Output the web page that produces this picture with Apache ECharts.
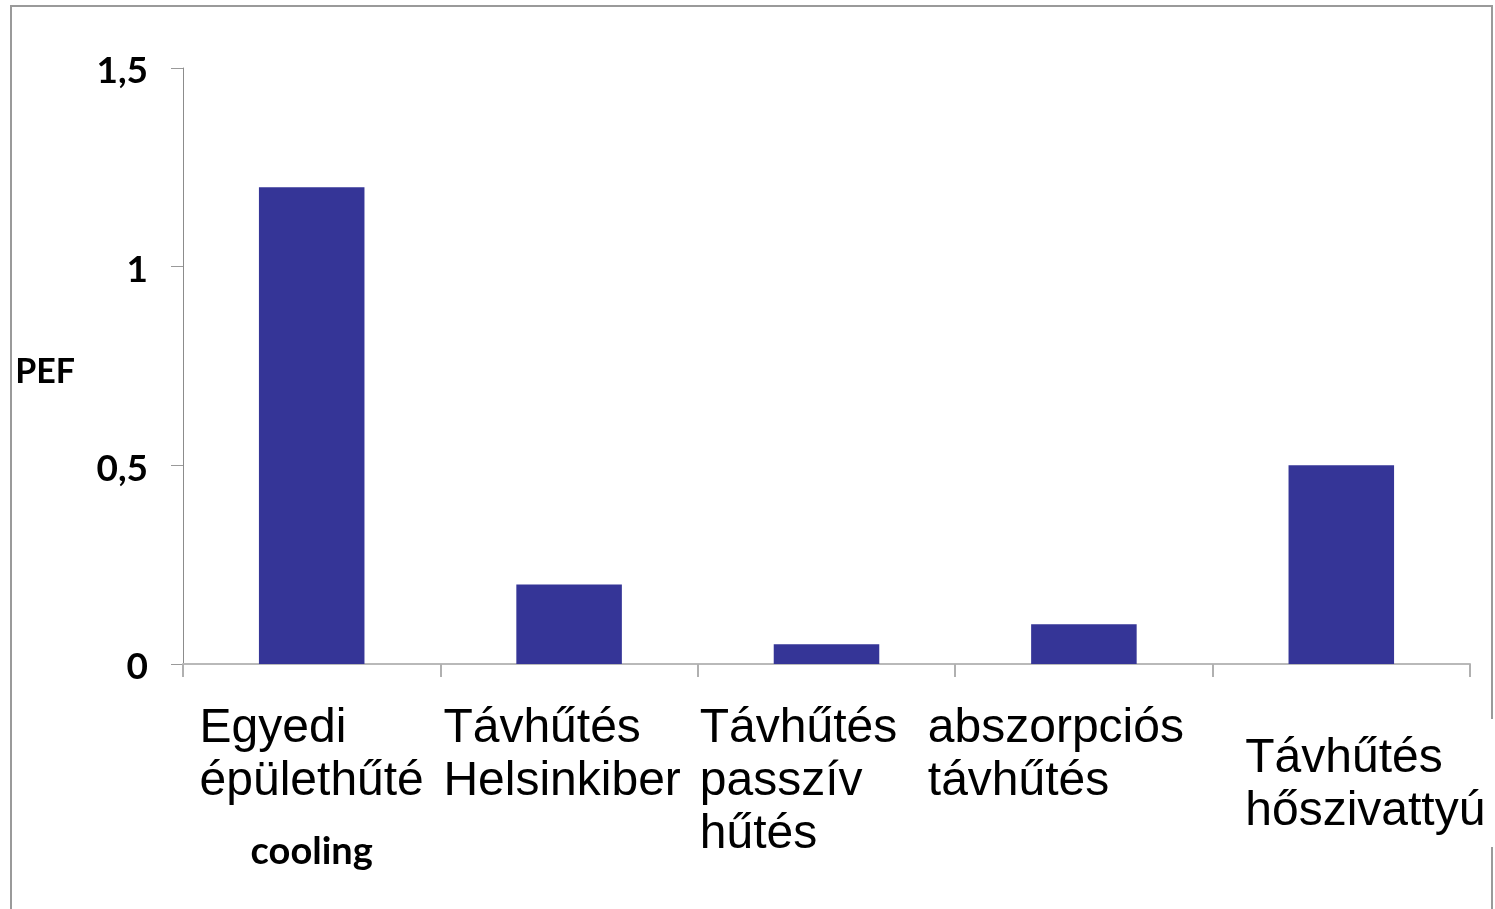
<!DOCTYPE html>
<html>
<head>
<meta charset="utf-8">
<script src="https://cdn.jsdelivr.net/npm/echarts@6/dist/echarts.min.js"></script>
<style>
  html, body { margin: 0; padding: 0; background: #ffffff; }
  #chart { width: 1495px; height: 909px; }
</style>
</head>
<body>
<div id="chart"></div>
<script>
// Category labels, one line per entry
const categoryLines = [
  ['Egyedi', 'épülethűté'],
  ['Távhűtés', 'Helsinkiber'],
  ['Távhűtés', 'passzív', 'hűtés'],
  ['abszorpciós', 'távhűtés'],
  ['Távhűtés', 'hőszivattyú']
];
// Extra bold note under a category label
const categoryNotes = ['cooling', '', '', '', ''];
// Primary energy factor per cooling option
const pefValues = [1.2, 0.2, 0.05, 0.1, 0.5];
// Value axis ticks
const yTicks = [0, 0.5, 1, 1.5];
const yName = 'PEF';

const categories = categoryLines.map(l => l.join(' '));

// per-category horizontal nudges of the label block (padding [top,right,bottom,left])
const labelPads = [
  [0, 0, 0, 0],
  [0, 14, 0, 0],
  [0, 56, 0, 0],
  [0, 56, 0, 0],
  [0, 0, 0, 48]
];
const labelDrop = [0, 0, 0, 0, 30];

const catFont = {
  fontFamily: '"Liberation Sans", Arial, sans-serif',
  fontSize: 48,
  lineHeight: 53,
  color: '#000000',
  align: 'left'
};
const rich = {
  note: {
    fontFamily: 'Lato, "Open Sans", sans-serif',
    fontWeight: 'bold',
    fontSize: 38,
    lineHeight: 88,
    color: '#000000',
    align: 'center'
  }
};
labelPads.forEach((p, i) => {
  rich['c' + i] = Object.assign({}, catFont, { padding: p });
  rich['g' + i] = { fontSize: 10, lineHeight: labelDrop[i] || 1 };
});

const chart = echarts.init(document.getElementById('chart'), null, { renderer: 'canvas' });

chart.setOption({
  backgroundColor: '#ffffff',
  animation: false,
  grid: {
    left: 183,
    right: 25,
    top: 68,
    bottom: 245,
    containLabel: false,
    outerBoundsMode: 'none'
  },
  xAxis: {
    type: 'category',
    data: categories,
    axisLine: { lineStyle: { color: '#b9b9b9', width: 2 } },
    axisTick: { show: true, length: 13, lineStyle: { color: '#b0b0b0', width: 2 } },
    axisLabel: {
      interval: 0,
      margin: 38,
      align: 'center',
      verticalAlign: 'top',
      hideOverlap: false,
      rich: rich,
      formatter: function (value, idx) {
        const parts = [];
        if (labelDrop[idx]) parts.push('{g' + idx + '| }');
        categoryLines[idx].forEach(line => parts.push('{c' + idx + '|' + line + '}'));
        if (categoryNotes[idx]) parts.push('{note|' + categoryNotes[idx] + '}');
        return parts.join('\n');
      }
    },
    splitLine: { show: false }
  },
  yAxis: {
    type: 'value',
    min: yTicks[0],
    max: yTicks[yTicks.length - 1],
    interval: yTicks[1] - yTicks[0],
    name: yName,
    nameLocation: 'middle',
    nameRotate: 0,
    nameGap: 108,
    nameTextStyle: {
      fontFamily: 'Lato, "Open Sans", sans-serif',
      fontWeight: 'bold',
      fontSize: 34,
      color: '#000000',
      align: 'right',
      verticalAlign: 'top',
      lineHeight: 12
    },
    axisLine: { show: true, lineStyle: { color: '#8c8c8c', width: 1 } },
    axisTick: { show: true, length: 12, lineStyle: { color: '#9a9a9a', width: 1 } },
    axisLabel: {
      margin: 35,
      fontFamily: 'Lato, "Open Sans", sans-serif',
      fontWeight: 'bold',
      fontSize: 37,
      color: '#000000',
      verticalAlign: 'top',
      lineHeight: 7,
      formatter: v => String(v).replace('.', ',')
    },
    splitLine: { show: false }
  },
  series: [{
    type: 'bar',
    data: pefValues,
    barWidth: '41%',
    itemStyle: { color: '#353597' }
  }],
  graphic: [
    // outer frame (right edge broken where the last label runs over it)
    { type: 'polyline', silent: true, z: 100,
      shape: { points: [[11, 909], [11, 6], [1492, 6], [1492, 719]] },
      style: { stroke: '#9a9a9a', lineWidth: 2, fill: null } },
    { type: 'line', silent: true, z: 100,
      shape: { x1: 1492, y1: 847, x2: 1492, y2: 909 },
      style: { stroke: '#9a9a9a', lineWidth: 2 } }
  ]
});
</script>
</body>
</html>
